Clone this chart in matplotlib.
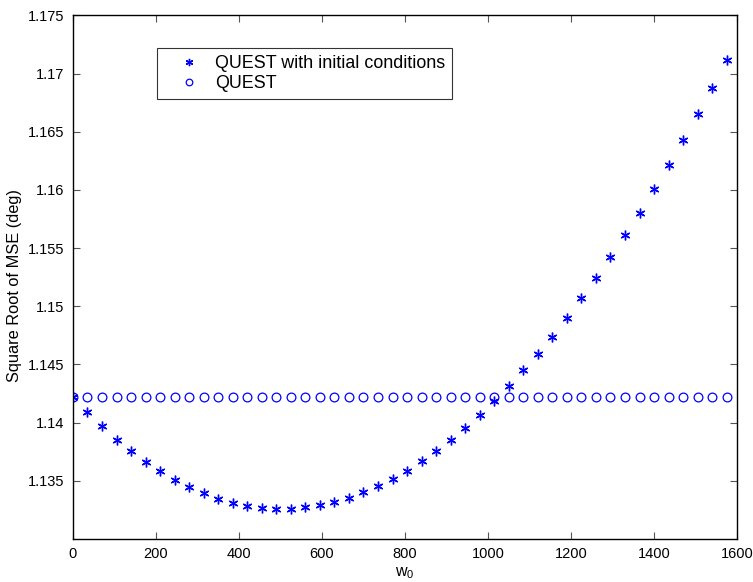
import matplotlib
matplotlib.use("Agg")
from matplotlib import pyplot as plt

plt.rcParams['font.family'] = ['Liberation Sans', 'DejaVu Sans']
plt.rcParams['mathtext.fontset'] = 'custom'
plt.rcParams['mathtext.rm'] = 'Liberation Sans'

w0 = list(range(0, 1576, 35))
quest_init = [1.14223, 1.14089, 1.13969, 1.13853, 1.13756, 1.13664, 1.13584, 1.13507,
              1.13444, 1.13393, 1.13344, 1.13312, 1.13284, 1.13269, 1.13258, 1.13260,
              1.13272, 1.13289, 1.13318, 1.13355, 1.13401, 1.13453, 1.13516, 1.13587,
              1.13668, 1.13756, 1.13851, 1.13954, 1.14066, 1.14185, 1.14315, 1.14450,
              1.14593, 1.14739, 1.14900, 1.15070, 1.15241, 1.15421, 1.15610, 1.15805,
              1.16006, 1.16215, 1.16427, 1.16651, 1.16879, 1.17115]
quest = [1.14223] * len(w0)

fig = plt.figure(figsize=(7.53, 5.82), dpi=100)
ax = fig.add_axes([0.0969, 0.0739, 0.8819, 0.8995])

ax.plot(w0, quest_init, linestyle="none", marker=(6, 2, 0), markersize=7,
        markeredgewidth=1.0, color="#0000ff", label="QUEST with initial conditions")
ax.plot(w0, quest, linestyle="none", marker="o", markersize=6.3,
        markerfacecolor="none", markeredgewidth=0.9, color="#0000ff", label="QUEST")

ax.set_xlim(0, 1600)
ax.set_ylim(1.13, 1.175)
ax.set_xticks(range(0, 1601, 200))
ax.set_yticks([1.135, 1.14, 1.145, 1.15, 1.155, 1.16, 1.165, 1.17, 1.175])
ax.set_yticklabels(["1.135", "1.14", "1.145", "1.15", "1.155", "1.16", "1.165", "1.17", "1.175"])
ax.tick_params(direction="in", length=5, width=0.8, color="#555555", labelsize=10.5,
               top=True, right=True, pad=6)
for s in ax.spines.values():
    s.set_linewidth(1.0)

ax.set_xlabel(r"$\mathregular{w_0}$", fontsize=11.5)
ax.xaxis.set_label_coords(0.5, -0.051)
ax.set_ylabel("Square Root of MSE (deg)", fontsize=11.8)
ax.yaxis.set_label_coords(-0.076, 0.485)

leg = ax.legend(loc="upper left", bbox_to_anchor=(0.127, 0.938), fontsize=12.9,
                frameon=True, fancybox=False, edgecolor="black", handlelength=2.7,
                borderpad=0.4, labelspacing=0.15, borderaxespad=0, handletextpad=0.1,
                markerscale=0.75)
leg.get_frame().set_linewidth(0.8)

plt.savefig("out.png", dpi=100)
